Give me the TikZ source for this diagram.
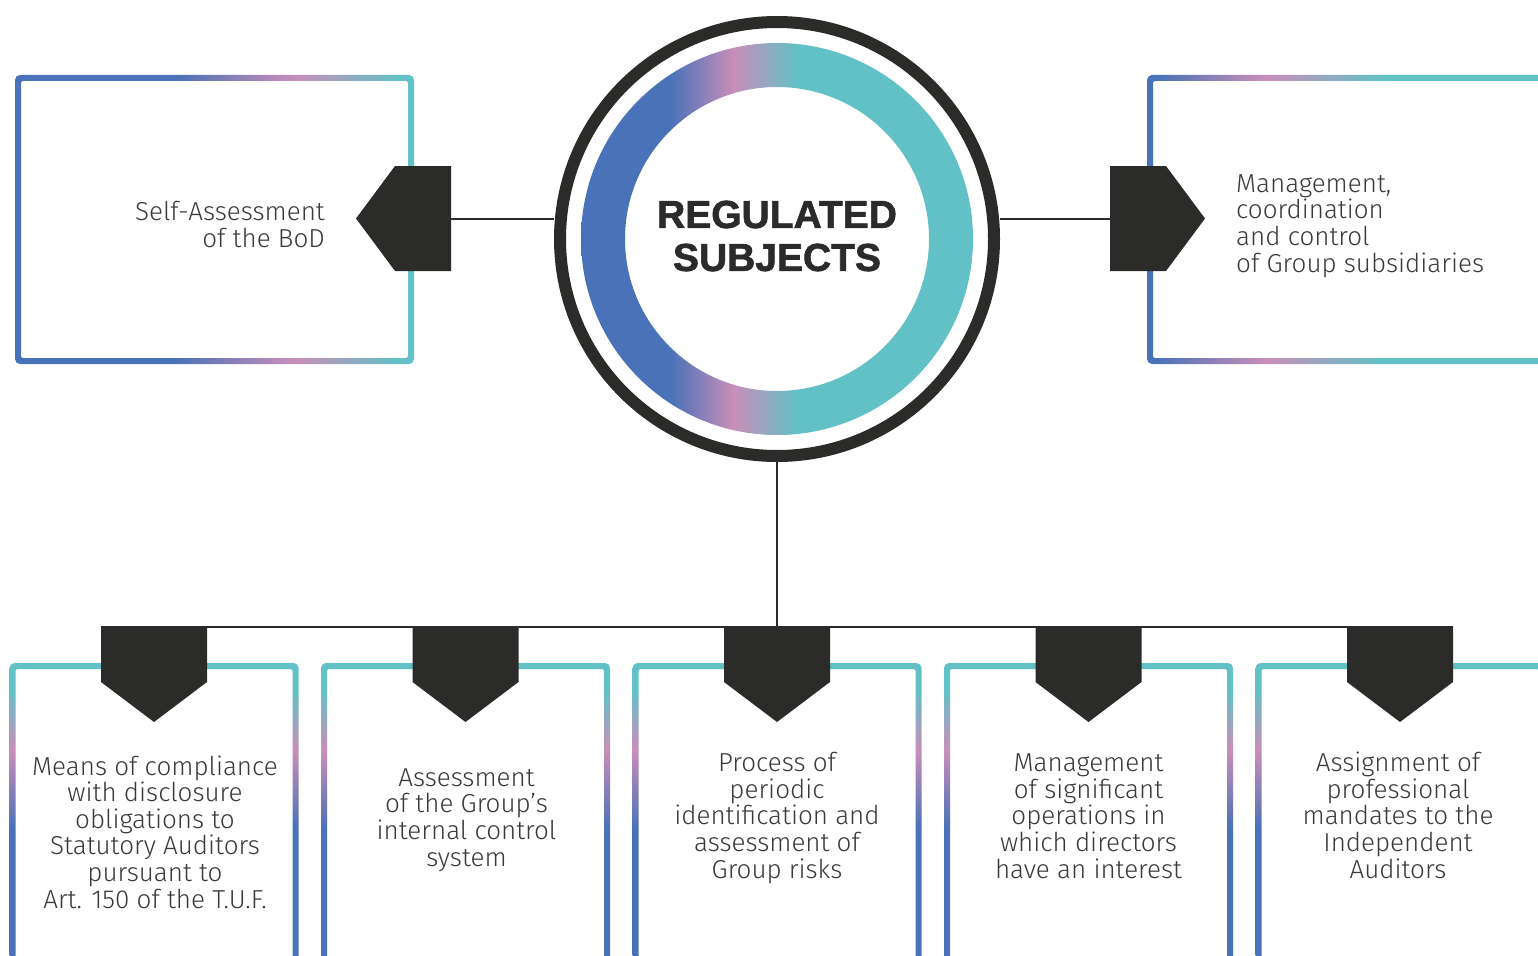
\documentclass[tikz,border=0pt]{standalone}
\usepackage{fontspec}
\newfontfamily\lightfont{Fira Sans Light}
\newfontfamily\titlefont{Liberation Sans Bold}[FakeBold=1.6]
\usetikzlibrary{calc}
\definecolor{bl}{HTML}{4A72B8}
\definecolor{pk}{HTML}{C98EB9}
\definecolor{tl}{HTML}{62C1C6}
\definecolor{dk}{HTML}{2B2B29}
\definecolor{tx}{HTML}{3A3A3A}
\pgfdeclarehorizontalshading{gLbox}{100bp}{color(0bp)=(bl); color(45bp)=(bl); color(60bp)=(pk); color(73bp)=(tl); color(100bp)=(tl)}
\pgfdeclarehorizontalshading{gRbox}{100bp}{color(0bp)=(bl); color(26bp)=(bl); color(38bp)=(pk); color(51bp)=(tl); color(100bp)=(tl)}
\pgfdeclarehorizontalshading{gRing}{100bp}{color(0bp)=(bl); color(36.5bp)=(bl); color(44.5bp)=(pk); color(52.5bp)=(tl); color(100bp)=(tl)}
\pgfdeclareverticalshading{gBot}{100bp}{color(0bp)=(bl); color(50.5bp)=(bl); color(62bp)=(pk); color(71bp)=(tl); color(100bp)=(tl)}
\begin{document}
\begin{tikzpicture}[x=1pt,y=-1pt,
  lbl/.style={font=\lightfont\fontsize{26}{26.6}\selectfont, text=tx, inner sep=0pt},
  ttl/.style={font=\titlefont\fontsize{39}{43}\selectfont, text=dk, inner sep=0pt, align=center},
  conn/.style={draw=dk, line width=2pt},
  tagshape/.style={fill=dk},
]
\useasboundingbox (0,0) rectangle (1538,955);
\fill[white] (0,0) rectangle (1538,955);
\clip (0,0) rectangle (1538,955);

% top left box
\shade[shading=gLbox, even odd rule] [rounded corners=5pt] (15,75) rectangle (414,364) [rounded corners=2pt] (21,81) rectangle (408,358);
% top right box
\shade[shading=gRbox, even odd rule] [rounded corners=5pt] (1147,75) rectangle (1600,364) [rounded corners=2pt] (1153,81) rectangle (1594,358);

% bottom boxes
\foreach \i in {0,...,4}{
  \pgfmathsetmacro{\cx}{777+311.5*(\i-2)}
  \shade[shading=gBot, even odd rule] [rounded corners=5pt] (\cx-144.5,663) rectangle (\cx+144.5,1000) [rounded corners=2pt] (\cx-138.5,669) rectangle (\cx+138.5,994);
  \coordinate (pk\i) at (\cx,627);
}

% central circle
\node[circle, draw=dk, line width=12pt, minimum size=434pt, inner sep=0pt] (ring) at (777,239) {};
\shade[shading=gRing, even odd rule] (ring.center) circle[radius=196] (ring.center) circle[radius=152];
\node[ttl] (title) at (777,236) {REGULATED\\SUBJECTS};

% connectors
\coordinate (hexLe) at (451,219);
\coordinate (hexRw) at (1110,219);
\draw[conn] (hexLe) -- (hexLe -| ring.west);
\draw[conn] (hexRw -| ring.east) -- (hexRw);
\draw[conn] (ring.south) -- (pk2);
\draw[conn] (pk0) -- (pk4);

% hexagon tags
\fill[tagshape] (356,218.5) -- (395,166) -- (451,166) -- (451,271) -- (395,271) -- cycle;
\fill[tagshape] (1110,166) -- (1166,166) -- (1205,218.5) -- (1166,271) -- (1110,271) -- cycle;

% pentagon tags
\foreach \i in {0,...,4}{
  \fill[tagshape] ($(pk\i)+(-53,-1)$) -- ($(pk\i)+(53,-1)$) -- ($(pk\i)+(53,55)$) -- ($(pk\i)+(0,95)$) -- ($(pk\i)+(-53,55)$) -- cycle;
}

% texts (base anchor = baseline of last line)
\node[lbl, align=right, anchor=base east] (tL) at (325,247) {Self-Assessment\\of the BoD};
\node[lbl, align=left, anchor=base west] (tR) at (1236,272) {Management,\\coordination\\and control\\of Group subsidiaries};
\node[lbl, align=center, anchor=base] (t0) at (155,908) {Means of compliance\\with disclosure\\obligations to\\Statutory Auditors\\pursuant to\\Art. 150 of the T.U.F.};
\node[lbl, align=center, anchor=base] (t1) at (466.5,866) {Assessment\\of the Group’s\\internal control\\system};
\node[lbl, align=center, anchor=base] (t2) at (777,878) {Process of\\periodic\\identification and\\assessment of\\Group risks};
\node[lbl, align=center, anchor=base] (t3) at (1088.5,878) {Management\\of significant\\operations in\\which directors\\have an interest};
\node[lbl, align=center, anchor=base] (t4) at (1398,878) {Assignment of\\professional\\mandates to the\\Independent\\Auditors};
\end{tikzpicture}
\end{document}
